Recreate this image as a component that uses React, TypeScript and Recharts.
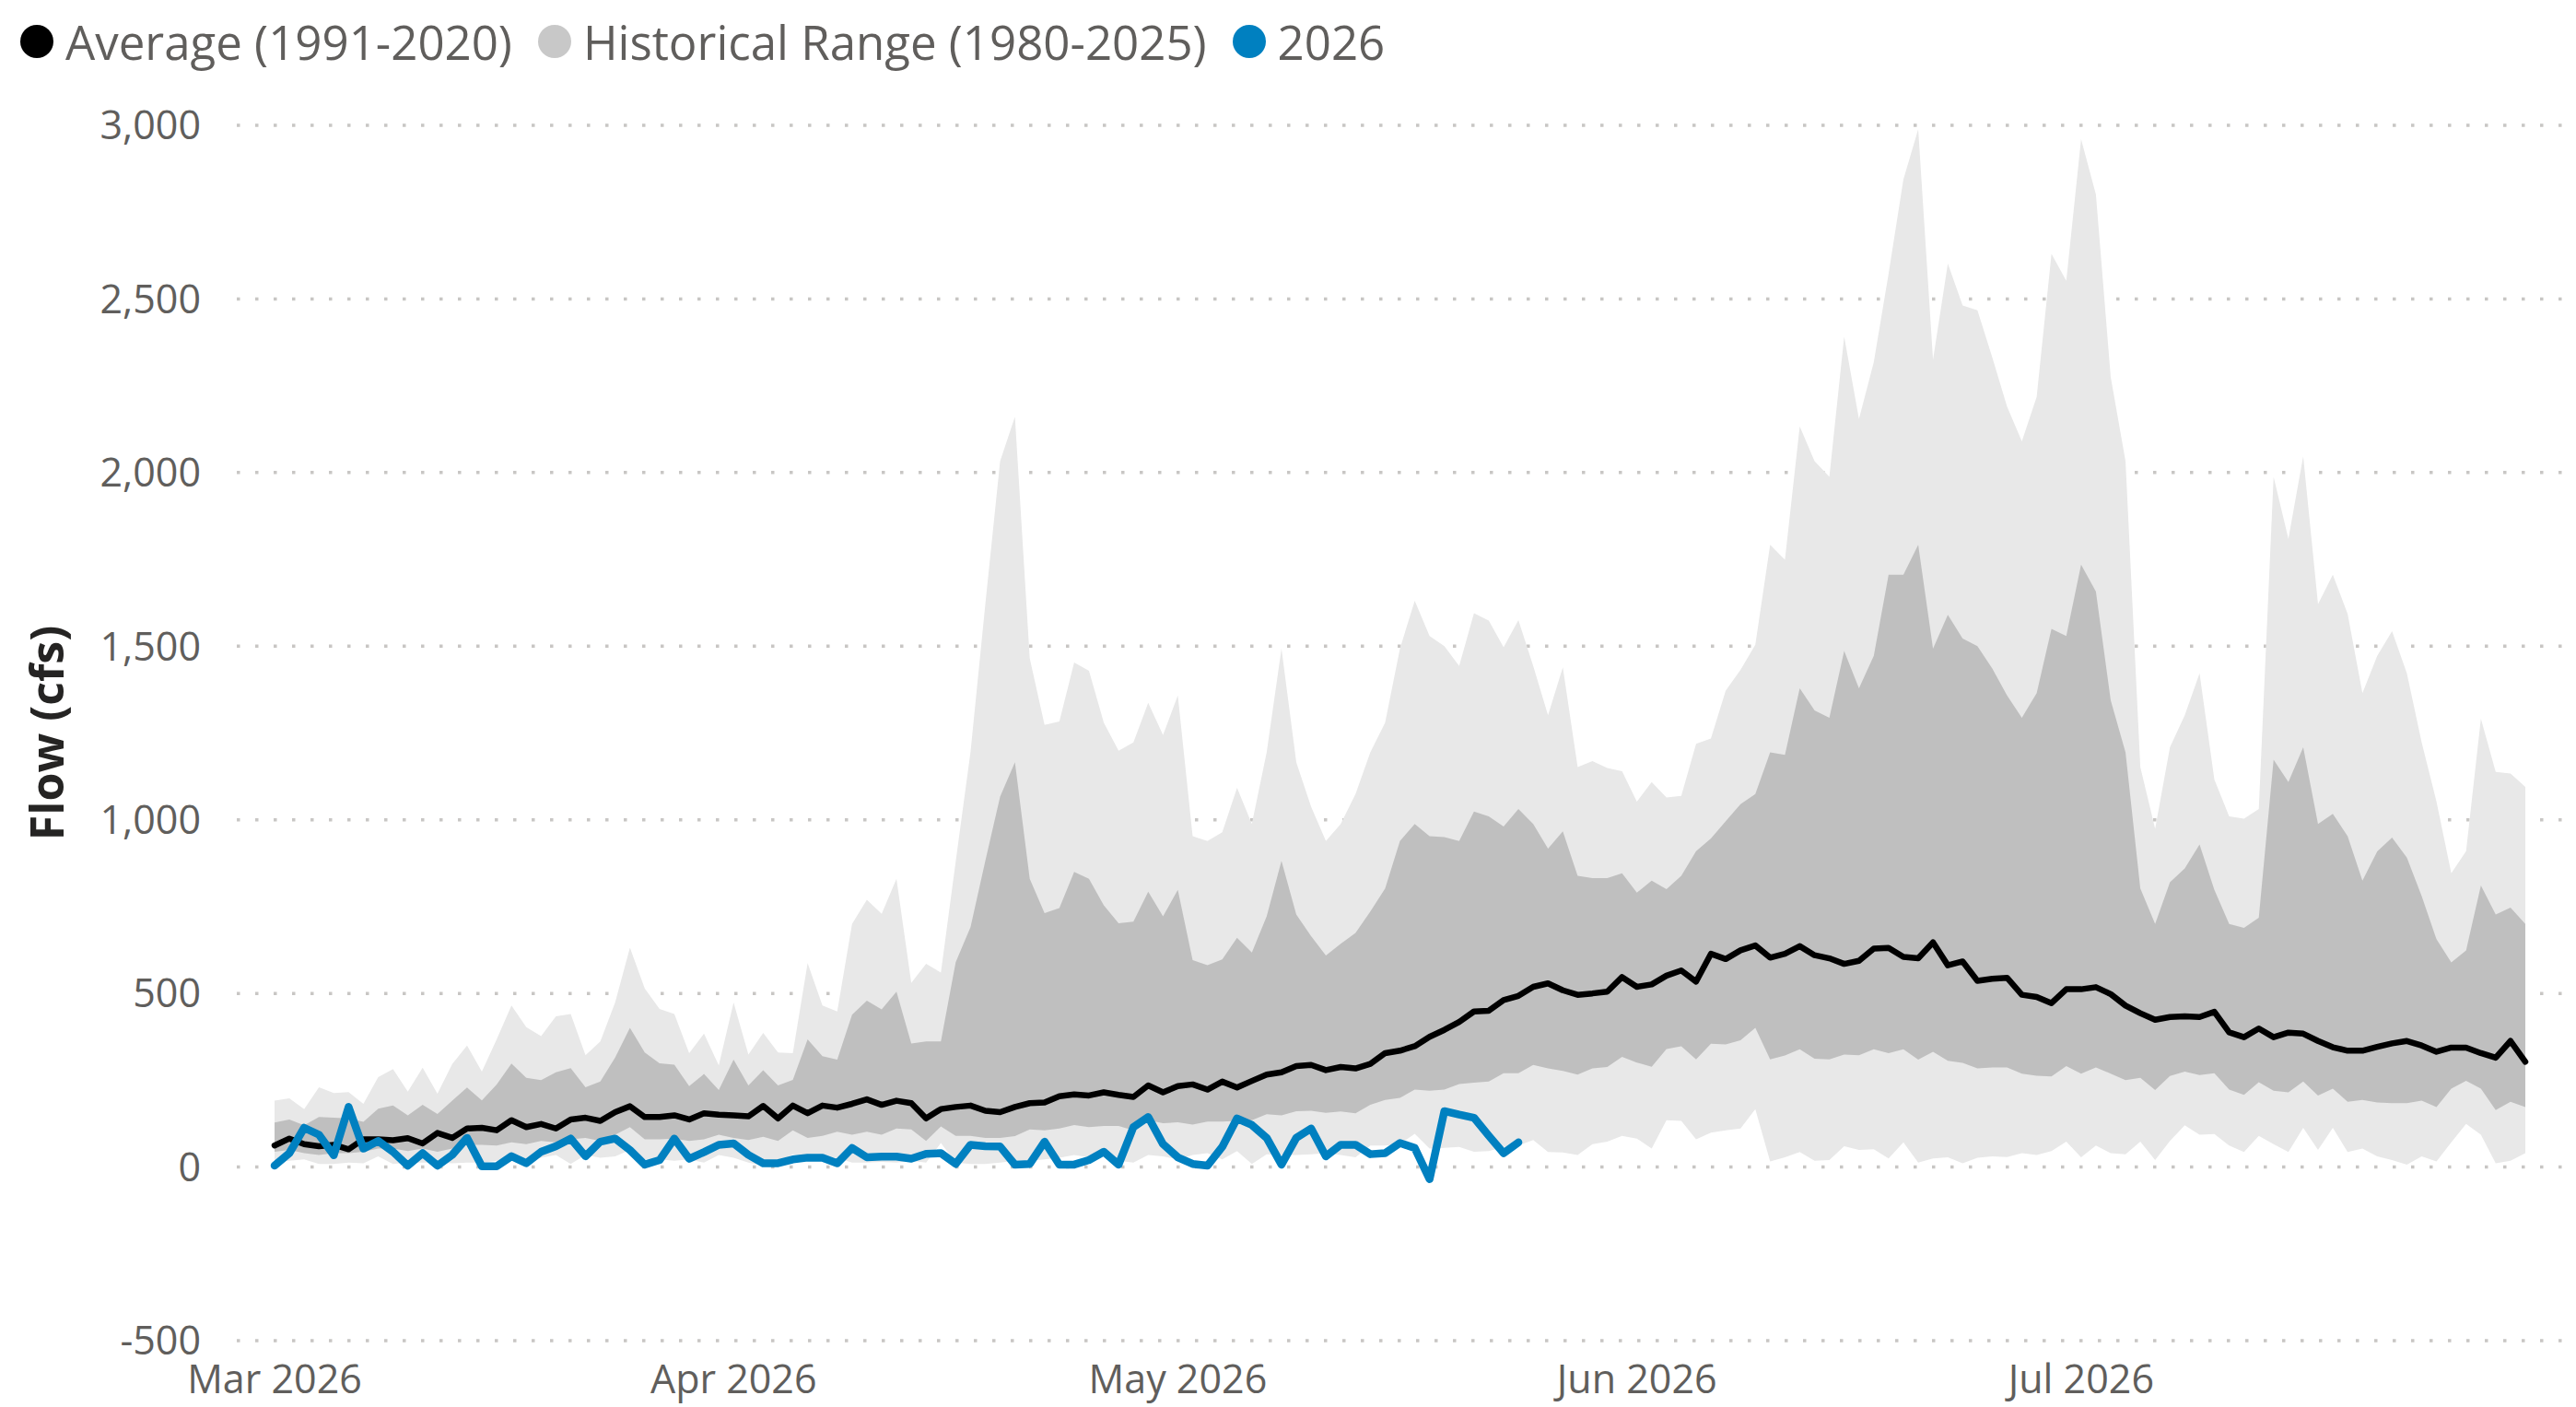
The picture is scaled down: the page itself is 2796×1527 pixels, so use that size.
import { ComposedChart, Area, Line, XAxis, YAxis, CartesianGrid } from 'recharts';

// daily values, 1 Mar 2026 .. 31 Jul 2026 (153 days), cfs
const rangeMax = [
  191, 198, 167, 230, 213, 216, 182, 259, 282, 217, 286, 211, 297, 350, 275, 368, 465, 403, 377, 434, 441, 322, 362, 474, 632, 514, 455, 441, 328, 384, 293, 474,
  324, 386, 330, 328, 587, 465, 448, 700, 770, 729, 830, 530, 585, 560,
  880, 1195, 1621, 2033, 2161, 1465, 1273, 1283, 1453, 1429, 1280, 1199, 1223, 1337, 1244, 1358, 953, 939, 964, 1092, 988, 1194, 1493, 1166, 1038, 939, 988, 1074, 1194, 1280,
  1493, 1631, 1529, 1500, 1443, 1595, 1574, 1497, 1575, 1443, 1301, 1439, 1152, 1169, 1149, 1140, 1052, 1109, 1064, 1069, 1219, 1234, 1372, 1432, 1504, 1792, 1749, 2133, 2033, 1988,
  2392, 2154, 2318, 2573, 2844, 2989, 2325, 2602, 2481, 2467, 2332, 2190, 2090, 2218, 2630, 2552, 2960, 2801, 2275, 2033, 1152, 974, 1209, 1301, 1422, 1116, 1010, 1003, 1031, 1988,
  1809, 2047, 1621, 1706, 1593, 1365, 1472, 1543, 1422, 1223, 1052, 846, 910, 1291, 1138, 1133, 1095,
];
const bandHigh = [
  128, 137, 120, 144, 142, 140, 130, 168, 177, 149, 179, 153, 191, 229, 192, 238, 298, 257, 250, 273, 285, 230, 246, 315, 401, 330, 299, 295, 233, 268, 222, 309,
  235, 279, 235, 251, 368, 319, 309, 439, 479, 454, 505, 356, 362, 362,
  590, 691, 882, 1067, 1166, 830, 731, 746, 850, 830, 754, 702, 707, 793, 722, 798, 596,
  581, 598, 660, 618, 722, 882, 727, 665, 609, 643, 674, 736, 802,
  939, 988, 953, 950, 939, 1024, 1010, 981, 1031, 988, 917, 967, 839, 832, 832, 846,
  790, 825, 800, 839, 910, 946, 996, 1045, 1074, 1194, 1187, 1379, 1315, 1294, 1486, 1379, 1472, 1706, 1706, 1792, 1493, 1590, 1522, 1500, 1436, 1358, 1294, 1365, 1550, 1529, 1735, 1657, 1344, 1194,
  802, 700, 820, 860, 929, 798, 700, 689, 718, 1173, 1109, 1209, 988, 1017, 953, 825, 909, 949, 891, 780, 656, 589, 624, 811, 727, 747, 700,
];
const bandLow = [
  44, 49, 40, 35, 40, 40, 44, 53, 53, 46, 53, 44, 53, 64, 64, 62, 71, 66, 75, 71, 80, 84, 75, 93, 115, 80, 80, 82, 75, 80, 93, 84,
  78, 87, 75, 106, 84, 90, 102, 93, 102, 93, 111, 108, 75, 117, 90, 90, 84, 84, 89, 108, 106, 111, 121, 115, 118, 118, 106, 135, 126, 129, 122,
  131, 131, 133, 135, 152, 149, 161, 162, 156, 160, 155, 179, 193, 199, 223, 220, 223, 239, 243, 246, 270, 270, 294, 284, 277, 266, 284, 288, 317, 301, 289, 340,
  348, 310, 355, 353, 365, 401, 310, 321, 339, 312, 310, 324, 322, 339, 328, 339, 309, 332, 306, 300, 284, 287, 287, 269, 263, 261, 291, 269, 287, 269, 250, 257,
  222, 262, 275, 265, 270, 223, 208, 244, 220, 215, 246, 206, 226, 188, 193, 186, 184, 184, 191, 173, 226, 248, 226, 164, 188, 173,
];
const rangeMin = [
  13, 18, 22, 9, 9, 13, 11, 31, 9, 13, 13, 13, 11, 13, 13, 18, 22, 18, 27, 35, 9, 35, 27, 31, 49, 22, 22, 18, 22, 13, 35, 27,
  13, 4, 13, 37, 31, 22, 27, 13, 13, 15, 13, 18, 13, 69, 13, 9, 9, 13, 18, 18, 22, 27, 35, 28, 40, 18, 13, 35, 31, 22, 35,
  40, 22, 46, 9, 37, 35, 35, 37, 40, 35, 28, 62, 62, 66, 96, 53, 55, 58, 44, 46, 58, 62, 78, 43, 42, 35, 66, 73, 90, 82, 53, 135,
  133, 80, 99, 106, 111, 167, 16, 28, 43, 18, 20, 60, 49, 51, 25, 71, 13, 25, 28, 11, 27, 31, 29, 40, 35, 46, 73, 28, 62, 40, 37, 73,
  20, 75, 120, 93, 95, 62, 43, 90, 66, 43, 113, 49, 113, 43, 53, 31, 20, 7, 31, 16, 71, 124, 93, 11, 18, 40,
];
const average = [
  62, 82, 66, 60, 64, 51, 80, 80, 77, 83, 68, 98, 84, 111, 113, 106, 135, 115, 124, 111, 137, 142, 133, 158, 175, 144, 144, 149, 137, 155, 151, 149,
  146, 176, 140, 177, 155, 177, 171, 182, 195, 179, 191, 184, 140, 167, 173, 177, 162, 158, 173, 184, 186, 204, 209, 206, 215, 208, 202, 235, 215, 233, 238,
  223, 246, 229, 248, 266, 273, 291, 294, 279, 288, 284, 297, 328, 335, 348, 375, 395, 418, 448, 450, 481, 493, 519, 529, 509, 496, 500, 505, 547, 519, 526, 551,
  566, 534, 614, 599, 624, 638, 603, 614, 636, 610, 601, 585, 594, 629, 631, 605, 601, 647, 581, 592, 536, 542, 545, 496, 490, 472, 512, 512, 518, 498, 465, 443,
  424, 432, 434, 432, 447, 388, 374, 399, 374, 387, 384, 363, 345, 335, 335, 346, 356, 363, 350, 332, 344, 344, 328, 315, 363, 303,
];
// 2026 observed, through 24 May
const flow2026 = [
  4, 40, 113, 93, 34, 173, 53, 75, 44, 4, 40, 4, 35, 84, 2, 2, 31, 11, 44, 60, 82, 31, 73, 82, 49, 7, 20, 82, 24, 43, 64, 68,
  35, 11, 11, 22, 27, 27, 11, 55, 28, 30, 30, 24, 38, 40, 9, 64, 60, 59, 7, 9, 73, 7, 7, 20, 44, 7, 115, 144, 66, 28, 9,
  4, 58, 140, 121, 84, 7, 84, 111, 31, 64, 64, 37, 40, 69, 55, -35, 161, 151, 142, 90, 40, 71,
];

const monthTicks = [0, 31, 61, 92, 122];
const monthLabels = ['Mar 2026', 'Apr 2026', 'May 2026', 'Jun 2026', 'Jul 2026'];
const yTicks = [-500, 0, 500, 1000, 1500, 2000, 2500, 3000];

const legendItems = [
  { name: 'Average (1991-2020)', color: '#000000' },
  { name: 'Historical Range (1980-2025)', color: '#C8C8C8' },
  { name: '2026', color: '#0080C0' },
];

const rows = average.map((avg, i) => ({
  day: i,
  range: [rangeMin[i], rangeMax[i]],
  band: [bandLow[i], bandHigh[i]],
  average: avg,
  flow: i < flow2026.length ? flow2026[i] : null,
}));

const FONT = "'Segoe UI', 'Open Sans', sans-serif";
const tickStyle = { fill: '#605E5C', fontSize: 43, fontFamily: FONT };

const YTitle = ({ viewBox }: any) => {
  const cy = viewBox.y + viewBox.height / 2;
  return (
    <text
      x={50}
      y={cy}
      transform={`rotate(-90 50 ${cy})`}
      textAnchor="middle"
      dominantBaseline="central"
      fill="#252423"
      fontSize={50}
      fontWeight="bold"
      fontFamily={FONT}
    >
      Flow (cfs)
    </text>
  );
};

export default function App() {
  return (
    <div style={{ position: 'absolute', left: 0, top: 0, width: 2796, height: 1527, background: '#fff' }}>
      <div
        style={{
          position: 'absolute',
          left: 22,
          top: 45,
          transform: 'translateY(-50%)',
          display: 'flex',
          alignItems: 'center',
          fontFamily: FONT,
          fontSize: 51,
          color: '#605E5C',
          whiteSpace: 'nowrap',
        }}
      >
        {legendItems.map((it) => (
          <div key={it.name} style={{ display: 'flex', alignItems: 'center', marginRight: 28 }}>
            <span
              style={{ width: 36, height: 36, borderRadius: '50%', background: it.color, marginRight: 13, display: 'inline-block' }}
            />
            <span>{it.name}</span>
          </div>
        ))}
      </div>

      <ComposedChart width={2796} height={1527} data={rows} margin={{ top: 136, right: 11, bottom: 0, left: 0 }}>
        <CartesianGrid vertical={false} stroke="#C8C6C4" strokeWidth={3.5} strokeDasharray="3.5 16.5" />
        <XAxis
          type="number"
          dataKey="day"
          domain={[0, 152]}
          ticks={monthTicks}
          tickFormatter={(v) => monthLabels[monthTicks.indexOf(v)] ?? ''}
          padding={{ left: 41, right: 44 }}
          axisLine={false}
          tickLine={false}
          tickMargin={20}
          height={72}
          tick={tickStyle}
          interval={0}
        />
        <YAxis
          domain={[-500, 3000]}
          ticks={yTicks}
          tickFormatter={(v) => Number(v).toLocaleString('en-US')}
          width={257}
          axisLine={false}
          tickLine={false}
          tickMargin={33}
          tick={tickStyle}
          interval={0}
          label={<YTitle />}
        />
        <Area dataKey="range" fill="#E8E8E8" fillOpacity={1} stroke="none" isAnimationActive={false} />
        <Area dataKey="band" fill="#BFBFBF" fillOpacity={1} stroke="none" isAnimationActive={false} />
        <Line
          dataKey="average"
          stroke="#000000"
          strokeWidth={6.5}
          dot={false}
          strokeLinejoin="round"
          strokeLinecap="round"
          isAnimationActive={false}
        />
        <Line
          dataKey="flow"
          stroke="#0080C0"
          strokeWidth={8.5}
          dot={false}
          strokeLinejoin="round"
          strokeLinecap="round"
          connectNulls={false}
          isAnimationActive={false}
        />
      </ComposedChart>
    </div>
  );
}
